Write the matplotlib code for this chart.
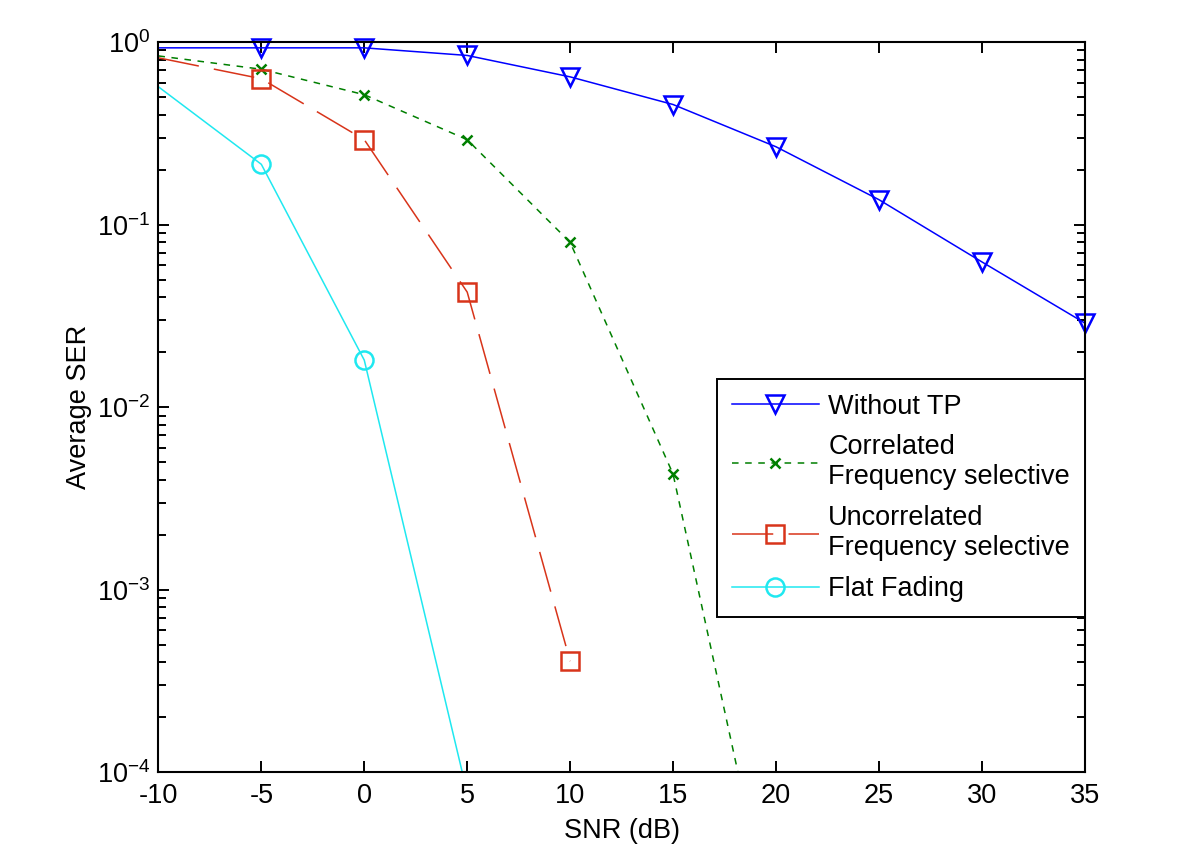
import matplotlib
matplotlib.use("Agg")
import matplotlib.pyplot as plt
from matplotlib.lines import Line2D
from matplotlib.ticker import LogLocator, FixedLocator, NullFormatter

# ---- data ----
snr_without_tp = [-10, -5, 0, 5, 10, 15, 20, 25, 30, 35]
ser_without_tp = [0.93, 0.93, 0.93, 0.845, 0.645, 0.455, 0.267, 0.137, 0.0625, 0.0289]

snr_corr = [-10, -5, 0, 5, 10, 15, 20]
ser_corr = [0.84, 0.71, 0.515, 0.292, 0.080, 0.0043, 1.1e-5]

snr_uncorr = [-10, -5, 0, 5, 10]
ser_uncorr = [0.82, 0.63, 0.292, 0.0427, 4.06e-4]

snr_flat = [-10, -5, 0, 5]
ser_flat = [0.569, 0.214, 0.0181, 7.7e-5]

labels = ["Without TP", "Correlated\nFrequency selective",
          "Uncorrelated\nFrequency selective", "Flat Fading"]
xticks = [-10, -5, 0, 5, 10, 15, 20, 25, 30, 35]
ytick_vals = [1e-4, 1e-3, 1e-2, 1e-1, 1e0]
ytick_labels = [r"$10^{-4}$", r"$10^{-3}$", r"$10^{-2}$", r"$10^{-1}$", r"$10^{0}$"]

# ---- font ----
fam = "Liberation Sans"
plt.rcParams["font.family"] = [fam, "DejaVu Sans"]
plt.rcParams["mathtext.fontset"] = "custom"
plt.rcParams["mathtext.rm"] = fam
plt.rcParams["mathtext.it"] = fam
plt.rcParams["mathtext.bf"] = fam
plt.rcParams["mathtext.default"] = "regular"
FS = 19.5

fig = plt.figure(figsize=(12, 8.59), dpi=100)
ax = fig.add_axes([0.132, 0.101, 0.772, 0.850])

blue = "#0000FF"
green = "#007F00"
red = "#D8341A"
cyan = "#1FE8F0"

styles = [
    (snr_without_tp, ser_without_tp, blue, "-", "v", 13),
    (snr_corr, ser_corr, green, (0, (4.3, 4.3)), "x", 7),
    (snr_uncorr, ser_uncorr, red, (0, (27, 10)), "s", 13),
    (snr_flat, ser_flat, cyan, "-", "o", 13),
]

handles = []
for (xs, ys, c, ls, mk, ms), lab in zip(styles, labels):
    ax.plot(xs, ys, color=c, linestyle=ls, linewidth=1.1)
    mx = [x for x, y in zip(xs[1:], ys[1:]) if y >= 1e-4]
    my = [y for y in ys[1:] if y >= 1e-4]
    ax.plot(mx, my, linestyle="none", marker=mk, markersize=ms,
            markerfacecolor="none", markeredgecolor=c, markeredgewidth=1.8,
            clip_on=False)
    handles.append(Line2D([], [], color=c, linestyle=ls, linewidth=1.1,
                          marker=mk, markersize=ms, markerfacecolor="none",
                          markeredgecolor=c, markeredgewidth=1.8))

ax.set_yscale("log")
ax.set_xlim(-10, 35)
ax.set_ylim(1e-4, 1e0)
ax.set_xticks(xticks)
ax.set_xticklabels([str(v) for v in xticks], fontsize=FS)
ax.yaxis.set_major_locator(FixedLocator(ytick_vals))
ax.set_yticklabels(ytick_labels, fontsize=FS)
ax.yaxis.set_minor_locator(LogLocator(base=10, subs=range(2, 10)))
ax.yaxis.set_minor_formatter(NullFormatter())

ax.tick_params(which="both", direction="in", top=True, right=True, width=1.4)
ax.tick_params(which="major", length=8)
ax.tick_params(axis="x", which="major", pad=8)
ax.tick_params(axis="y", which="major", pad=6)
ax.tick_params(which="minor", length=6)
for s in ax.spines.values():
    s.set_linewidth(1.5)

ax.set_xlabel("SNR (dB)", fontsize=FS, labelpad=6)
ax.set_ylabel("Average SER", fontsize=FS, labelpad=3)

leg = ax.legend(handles, labels, loc="upper right", bbox_to_anchor=(1.0, 0.539),
                fontsize=FS, frameon=True, fancybox=False, framealpha=1,
                edgecolor="black", handlelength=3.2, handletextpad=0.35,
                borderpad=0.55, labelspacing=0.55, borderaxespad=0.0)
leg.get_frame().set_linewidth(1.4)

fig.savefig("out.png", dpi=100)
